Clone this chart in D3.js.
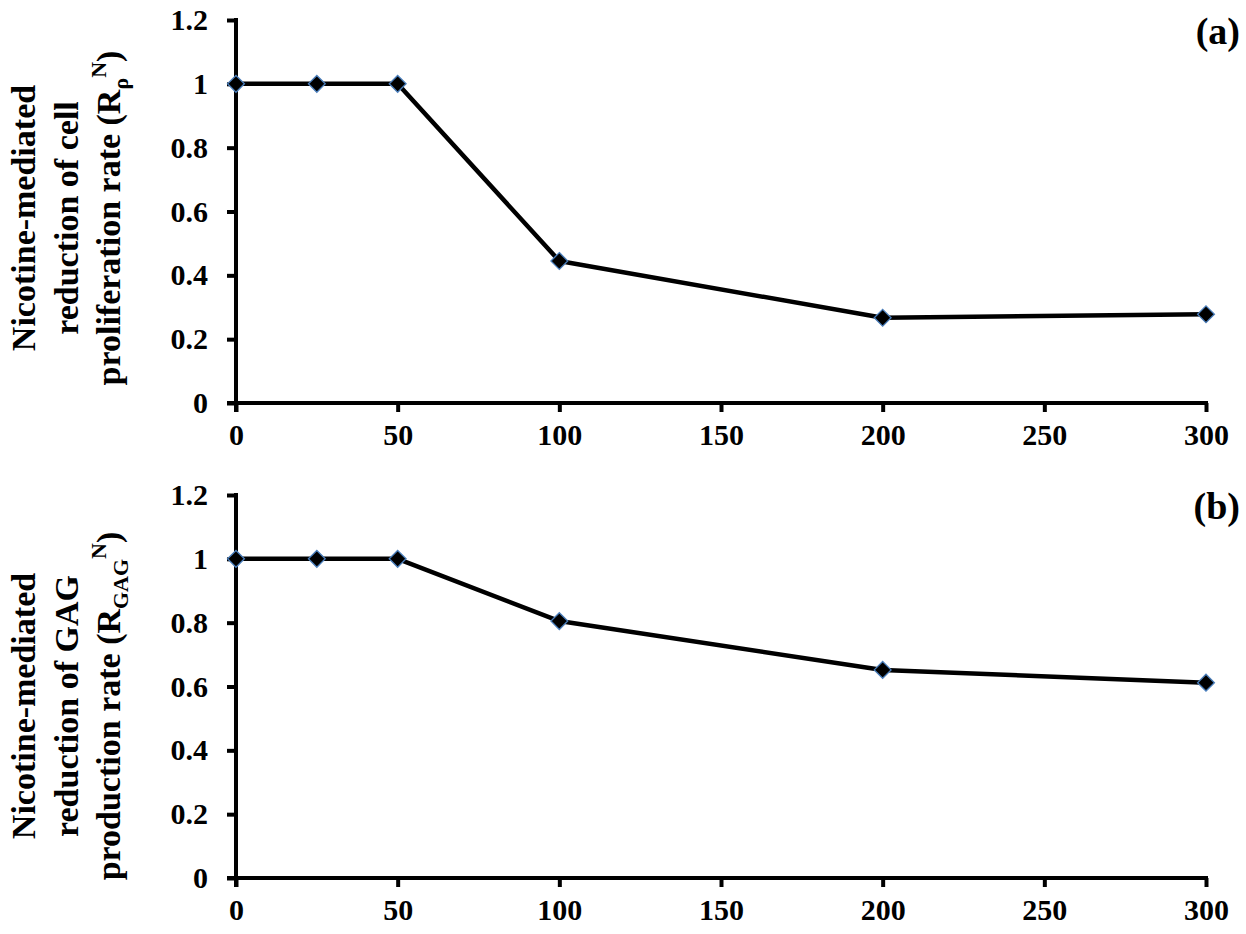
<!DOCTYPE html>
<html>
<head>
<meta charset="utf-8">
<script src="https://cdn.jsdelivr.net/npm/d3@7"></script>
<style>
  body { margin: 0; background: #fff; }
  svg text { font-family: "Liberation Serif", "Times New Roman", serif; font-weight: bold; fill: #000; }
</style>
</head>
<body>
<div id="chart"></div>
<script>
// nicotine concentration (x) and normalised rates
const concentrations = [0, 25, 50, 100, 200, 300];
const prolifRate = [1, 1, 1, 0.445, 0.267, 0.278];
const gagRate = [1, 1, 1, 0.805, 0.652, 0.612];
const xTicks = [0, 50, 100, 150, 200, 250, 300];
const yTicks = [0, 0.2, 0.4, 0.6, 0.8, 1, 1.2];

const W = 1246, H = 934;

const svg = d3.select("#chart")
  .append("svg")
    .attr("width", W)
    .attr("height", H);

const x = d3.scaleLinear()
  .domain([0, 300])
  .range([236, 1206]);

function drawPanel(top, values, label, titleLines, titleCenter) {
  const y = d3.scaleLinear()
    .domain([0, 1.2])
    .range([top + 383, top]);

  const g = svg.append("g");

  // y axis
  const yAxis = g.append("g")
    .attr("transform", "translate(" + x(0) + ",0)")
    .call(d3.axisLeft(y).tickValues(yTicks).tickSize(9).tickPadding(19)
      .tickFormat(d => d3.format("~g")(d)));
  // x axis
  const xAxis = g.append("g")
    .attr("transform", "translate(0," + y(0) + ")")
    .call(d3.axisBottom(x).tickValues(xTicks).tickSize(9).tickPadding(12));

  [yAxis, xAxis].forEach(a => {
    a.select(".domain").remove();
    a.selectAll("line").attr("stroke", "#000").attr("stroke-width", 4);
    a.selectAll("text").style("font-size", "30px");
  });
  yAxis.append("line")
    .attr("x1", 0).attr("x2", 0)
    .attr("y1", y(1.2) - 2).attr("y2", y(0) + 9)
    .attr("stroke", "#000").attr("stroke-width", 4);
  xAxis.append("line")
    .attr("x1", x(0) - 9).attr("x2", x(300) + 2)
    .attr("y1", 0).attr("y2", 0)
    .attr("stroke", "#000").attr("stroke-width", 4);

  const pts = concentrations.map((c, i) => ({c: c, v: values[i]}));

  g.append("path")
    .datum(pts)
    .attr("fill", "none")
    .attr("stroke", "#000")
    .attr("stroke-width", 4.5)
    .attr("stroke-linejoin", "round")
    .attr("d", d3.line().x(d => x(d.c)).y(d => y(d.v)));

  g.selectAll(".pt")
    .data(pts)
    .enter()
    .append("path")
      .attr("class", "pt")
      .attr("transform", d => "translate(" + x(d.c) + "," + y(d.v) + ")")
      .attr("d", d3.symbol().type(d3.symbolDiamond2).size(180))
      .attr("fill", "#000")
      .attr("stroke", "#4a7ebb")
      .attr("stroke-width", 1.3);

  // panel label
  g.append("text")
    .attr("x", 1240)
    .attr("y", top + 24)
    .attr("text-anchor", "end")
    .style("font-size", "38px")
    .text(label);

  // y axis title, three lines
  const baselines = [35, 78, 120];
  titleLines.forEach((parts, i) => {
    const t = g.append("text")
      .attr("transform", "translate(" + baselines[i] + "," + titleCenter + ") rotate(-90)")
      .attr("text-anchor", "middle")
      .style("font-size", "34px");
    parts.forEach(p => {
      t.append("tspan")
        .attr("dy", p.dy || 0)
        .style("font-size", p.size || null)
        .text(p.t);
    });
  });
}

drawPanel(20, prolifRate, "(a)", [
  [{t: "Nicotine-mediated"}],
  [{t: "reduction of cell"}],
  [{t: "proliferation rate (R"}, {t: "\u03c1", dy: 8, size: "22px"},
   {t: "N", dy: -22, size: "22px"}, {t: ")", dy: 14}]
], 218);

drawPanel(495, gagRate, "(b)", [
  [{t: "Nicotine-mediated"}],
  [{t: "reduction of GAG"}],
  [{t: "production rate (R"}, {t: "GAG", dy: 8, size: "22px"},
   {t: "N", dy: -22, size: "22px"}, {t: ")", dy: 14}]
], 706);
</script>
</body>
</html>
